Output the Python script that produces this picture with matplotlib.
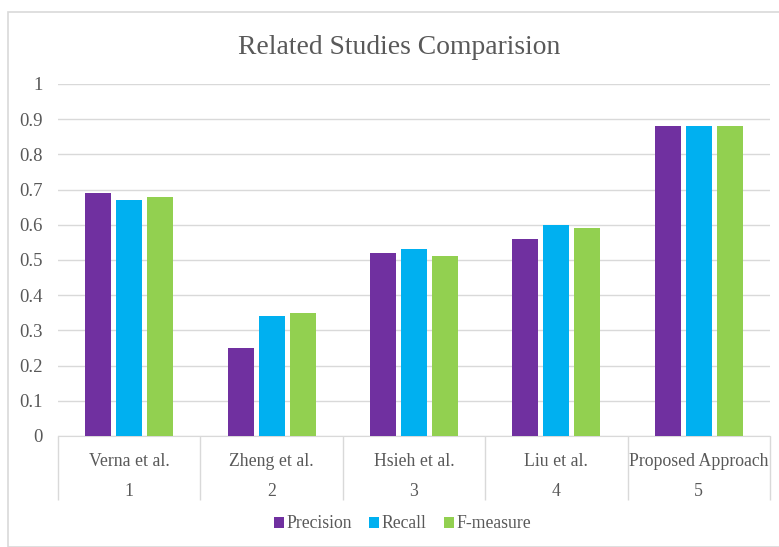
import numpy as np
from matplotlib import pyplot as plt
from matplotlib import transforms
from matplotlib.patches import Rectangle

plt.rcParams['font.family'] = ['Liberation Serif', 'DejaVu Serif']

studies = ["Verna et al.", "Zheng et al.", "Hsieh et al.", "Liu et al.", "Proposed Approach"]
numbers = ["1", "2", "3", "4", "5"]
precision = [0.69, 0.25, 0.52, 0.56, 0.88]
recall = [0.67, 0.34, 0.53, 0.60, 0.88]
f_measure = [0.68, 0.35, 0.51, 0.59, 0.88]

series = [("Precision", precision, "#7030A0"),
          ("Recall", recall, "#00B0F0"),
          ("F-measure", f_measure, "#92D050")]

TEXT = "#595959"
GRID = "#D9D9D9"

W, H = 779, 547
fig = plt.figure(figsize=(W / 100, H / 100), dpi=100)
fig.patches.append(Rectangle((8 / W, 0), 1, 1 - 12 / H, transform=fig.transFigure,
                             fill=False, edgecolor=GRID, linewidth=1.2))

ax = fig.add_axes([58 / W, (H - 436) / H, (770 - 58) / W, (436 - 84) / H])

x = np.arange(len(studies)) + 0.5
bar_w = 26 / 142.4
step = 31 / 142.4
for i, (name, vals, col) in enumerate(series):
    ax.bar(x + (i - 1) * step, vals, width=bar_w, color=col, label=name, zorder=3)

ax.set_xlim(0, len(studies))
ax.set_ylim(0, 1)
ax.set_yticks(np.arange(0, 1.01, 0.1))
ax.set_yticklabels(["0", "0.1", "0.2", "0.3", "0.4", "0.5", "0.6", "0.7", "0.8", "0.9", "1"])
ax.tick_params(axis="y", length=0, pad=11, labelsize=13.5, labelcolor=TEXT)
ax.set_xticks([])
ax.grid(axis="y", color=GRID, linewidth=1, zorder=0)
for s in ("top", "right", "left"):
    ax.spines[s].set_visible(False)
ax.spines["bottom"].set_color(GRID)

# two-level category axis
trans = transforms.blended_transform_factory(ax.transData, ax.transAxes)
ax.vlines(np.arange(len(studies) + 1), -64 / 352, 0, transform=trans,
          colors=GRID, linewidth=1, clip_on=False)
for xi, name, num in zip(x, studies, numbers):
    ax.text(xi, -25 / 352, name, transform=trans, ha="center", va="center",
            fontsize=12.8, color=TEXT)
    ax.text(xi, -56 / 352, num, transform=trans, ha="center", va="center",
            fontsize=12.8, color=TEXT)

fig.text(399 / W, 1 - 47 / H, "Related Studies Comparision", ha="center", va="center",
         fontsize=19.9, color=TEXT)

fig.legend(loc="center", bbox_to_anchor=(402.5 / W, 1 - 524 / H), ncol=3, frameon=False,
           fontsize=12.7, labelcolor=TEXT, handlelength=0.57, handleheight=0.57,
           handletextpad=0.12, columnspacing=1.0)

fig.savefig("out.png", dpi=100)
